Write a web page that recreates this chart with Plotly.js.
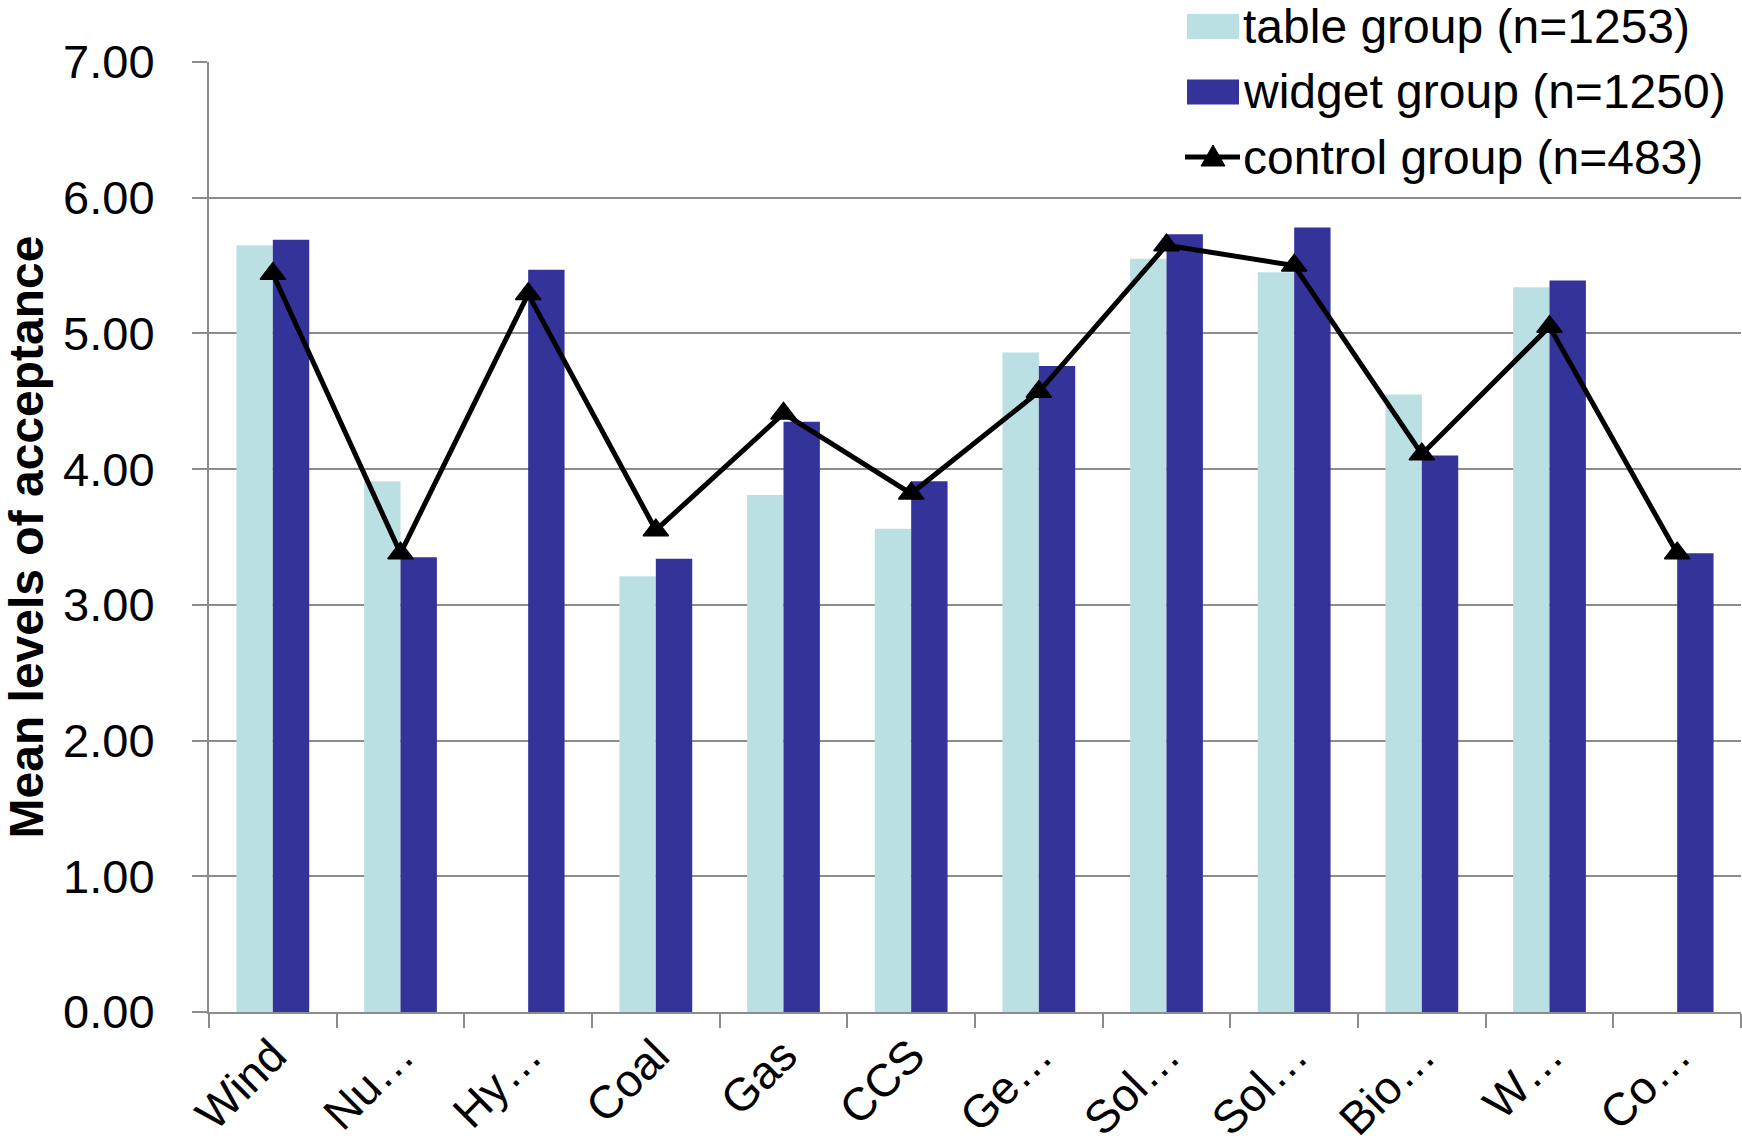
<!DOCTYPE html>
<html>
<head>
<meta charset="utf-8">
<script src="https://cdn.plot.ly/plotly-3.0.1.min.js"></script>
<style>
  html, body { margin: 0; padding: 0; background: #fff; }
  #chart { width: 1742px; height: 1145px; }
</style>
</head>
<body>
<div id="chart"></div>
<script>
// ---- data ----
const categories = ["Wind", "Nu…", "Hy…", "Coal", "Gas", "CCS", "Ge…", "Sol…", "Sol\u200b…", "Bio…", "W…", "Co…"];
const tableGroup = [5.65, 3.91, null, 3.21, 3.81, 3.56, 4.86, 5.55, 5.45, 4.55, 5.34, null];
const widgetGroup = [5.69, 3.35, 5.47, 3.34, 4.35, 3.91, 4.76, 5.73, 5.78, 4.10, 5.39, 3.38];
const controlGroup = [5.44, 3.38, 5.29, 3.55, 4.41, 3.82, 4.57, 5.65, 5.50, 4.11, 5.05, 3.38];
const seriesNames = ["table group (n=1253)", "widget group (n=1250)", "control group (n=483)"];
const yTickVals = [0, 1, 2, 3, 4, 5, 6, 7];
const yTickText = ["0.00", "1.00", "2.00", "3.00", "4.00", "5.00", "6.00", "7.00"];
const yTitle = "Mean levels of acceptance";

// ---- styles ----
const FONT = "'Liberation Sans', Arial, Helvetica, sans-serif";
const C_TABLE = "#bae0e3";
const C_WIDGET = "#333399";
const C_CONTROL = "#000000";
const C_AXIS = "#8c8c8c";

const W = 1742, H = 1145;
const M = { l: 209, r: 1, t: 62, b: 133 };
const PW = W - M.l - M.r, PH = H - M.t - M.b;
const px = v => (v - M.l) / PW;
const py = v => (H - M.b - v) / PH;

const traces = [
  { type: "bar", name: seriesNames[0], x: categories, y: tableGroup,
    marker: { color: C_TABLE, line: { width: 0 } }, showlegend: false },
  { type: "bar", name: seriesNames[1], x: categories, y: widgetGroup,
    marker: { color: C_WIDGET, line: { width: 0 } }, showlegend: false },
  { type: "scatter", mode: "lines+markers", name: seriesNames[2], x: categories, y: controlGroup,
    line: { color: C_CONTROL, width: 5 },
    marker: { symbol: "triangle-up", size: 22, color: C_CONTROL, line: { color: C_CONTROL, width: 1.5 } },
    showlegend: false, cliponaxis: false }
];

// manual legend (Excel-style swatches)
const rows = [26.5, 92, 157];
const shapes = [
  { type: "rect", xref: "paper", yref: "paper", x0: px(1187), x1: px(1239), y0: py(rows[0] - 12.5), y1: py(rows[0] + 12.5),
    fillcolor: C_TABLE, line: { width: 0 } },
  { type: "rect", xref: "paper", yref: "paper", x0: px(1187), x1: px(1239), y0: py(rows[1] - 12.5), y1: py(rows[1] + 12.5),
    fillcolor: C_WIDGET, line: { width: 0 } },
  { type: "line", xref: "paper", yref: "paper", x0: px(1185), x1: px(1240), y0: py(rows[2]), y1: py(rows[2]),
    line: { color: C_CONTROL, width: 5 } },
  { type: "path", xref: "paper", yref: "paper",
    path: `M ${px(1201)} ${py(rows[2] + 9)} L ${px(1225)} ${py(rows[2] + 9)} L ${px(1213)} ${py(rows[2] - 12)} Z`,
    fillcolor: C_CONTROL, line: { color: C_CONTROL, width: 1 } }
];
const annotations = seriesNames.map((n, i) => ({
  xref: "paper", yref: "paper", x: px(1241), y: py(rows[i]), xanchor: "left", yanchor: "middle",
  text: n, showarrow: false, font: { family: FONT, size: 48, color: "#000" }
}));

const layout = {
  width: W, height: H,
  margin: M,
  paper_bgcolor: "#fff", plot_bgcolor: "#fff",
  font: { family: FONT, size: 46, color: "#000" },
  barmode: "group", bargap: 0.43, bargroupgap: 0,
  showlegend: false,
  xaxis: {
    type: "category",
    range: [-0.5, categories.length - 0.5],
    tickson: "boundaries",
    ticks: "outside", ticklen: 14, tickwidth: 2, tickcolor: C_AXIS,
    showline: true, linecolor: C_AXIS, linewidth: 2,
    showgrid: false, zeroline: false,
    tickangle: -45,
    ticklabelstandoff: -4,
    tickfont: { family: FONT, size: 46, color: "#000" },
    automargin: false,
    fixedrange: true
  },
  yaxis: {
    range: [0, 7],
    tickmode: "array", tickvals: yTickVals, ticktext: yTickText,
    ticks: "outside", ticklen: 15, tickwidth: 2, tickcolor: C_AXIS,
    ticklabelstandoff: 28,
    showline: true, linecolor: C_AXIS, linewidth: 2,
    showgrid: true, gridcolor: C_AXIS, gridwidth: 2,
    zeroline: false,
    tickfont: { family: FONT, size: 47, color: "#000" },
    title: { text: yTitle, standoff: 12, font: { family: FONT, size: 48, color: "#000", weight: "bold" } },
    automargin: false,
    fixedrange: true
  },
  shapes: shapes,
  annotations: annotations
};

Plotly.newPlot("chart", traces, layout, { displayModeBar: false, staticPlot: true });
</script>
</body>
</html>
